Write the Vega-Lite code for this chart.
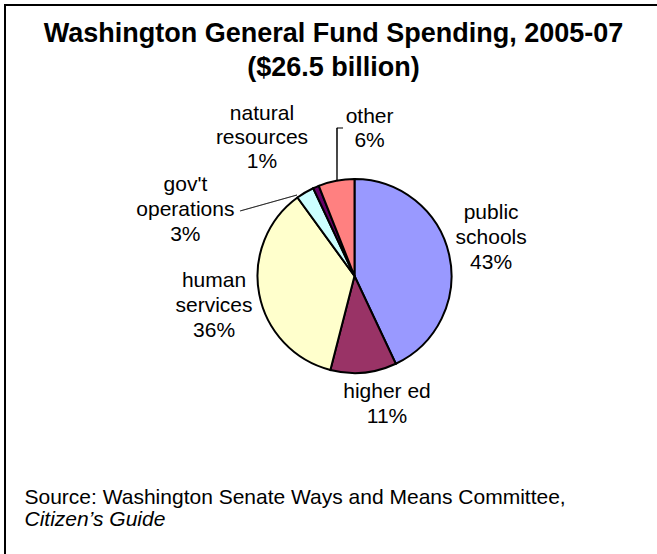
{
  "$schema": "https://vega.github.io/schema/vega-lite/v6.json",
  "width": 657,
  "height": 554,
  "autosize": {"type": "fit", "contains": "padding"},
  "padding": {"left": 5, "top": 5, "right": -3, "bottom": -3},
  "background": "white",
  "config": {"view": {"stroke": "black", "strokeWidth": 2}, "font": "Liberation Sans"},
  "title": {
    "text": ["Washington General Fund Spending, 2005-07", "($26.5 billion)"],
    "font": "Liberation Sans",
    "fontSize": 27,
    "fontWeight": "bold",
    "color": "black",
    "anchor": "middle",
    "frame": "group",
    "baseline": "bottom",
    "offset": -104,
    "dx": 1,
    "lineHeight": 34
  },
  "data": {
    "values": [
      {"cat": "public schools", "label": "public\nschools\n43%", "value": 43, "order": 1},
      {"cat": "higher ed", "label": "higher ed\n11%", "value": 11, "order": 2},
      {"cat": "human services", "label": "human\nservices\n36%", "value": 36, "order": 3},
      {"cat": "gov't operations", "label": "gov't\noperations\n3%", "value": 3, "order": 4},
      {"cat": "natural resources", "label": "natural\nresources\n1%", "value": 1, "order": 5},
      {"cat": "other", "label": "other\n6%", "value": 6, "order": 6}
    ]
  },
  "transform": [
    {"stack": "value", "groupby": [], "sort": [{"field": "order", "order": "ascending"}], "as": ["v0", "v1"]},
    {"calculate": "(datum.v0 + datum.v1) / 2", "as": "mid"}
  ],
  "layer": [
    {
      "mark": {"type": "arc", "outerRadius": 97, "stroke": "black", "strokeWidth": 2, "xOffset": 22, "yOffset": -5},
      "encoding": {
        "theta": {"field": "v0", "type": "quantitative", "scale": {"domain": [0, 100]}},
        "theta2": {"field": "v1"},
        "color": {
          "field": "cat", "type": "nominal",
          "scale": {
            "domain": ["public schools", "higher ed", "human services", "gov't operations", "natural resources", "other"],
            "range": ["#9999FF", "#993366", "#FFFFCC", "#CCFFFF", "#660066", "#FF8080"]
          },
          "legend": null
        }
      }
    },
    {
      "transform": [{"filter": "datum.cat === 'public schools'"}],
      "mark": {"type": "text", "radius": 140, "dy": -32, "xOffset": 22, "yOffset": -5, "fontSize": 21, "lineHeight": 25, "lineBreak": "\n", "align": "center", "baseline": "middle", "color": "black"},
      "encoding": {"theta": {"field": "mid", "type": "quantitative"}, "text": {"field": "label"}}
    },
    {
      "transform": [{"filter": "datum.cat === 'higher ed'"}],
      "mark": {"type": "text", "radius": 133, "dx": 20, "dy": -16, "xOffset": 22, "yOffset": -5, "fontSize": 21, "lineHeight": 25, "lineBreak": "\n", "align": "center", "baseline": "middle", "color": "black"},
      "encoding": {"theta": {"field": "mid", "type": "quantitative"}, "text": {"field": "label"}}
    },
    {
      "transform": [{"filter": "datum.cat === 'human services'"}],
      "mark": {"type": "text", "radius": 143, "dy": -22, "xOffset": 22, "yOffset": -5, "fontSize": 21, "lineHeight": 25, "lineBreak": "\n", "align": "center", "baseline": "middle", "color": "black"},
      "encoding": {"theta": {"field": "mid", "type": "quantitative"}, "text": {"field": "label"}}
    },
    {
      "transform": [{"filter": "datum.cat === \"gov't operations\""}],
      "mark": {"type": "text", "radius": 181, "dx": -77, "dy": 65, "xOffset": 22, "yOffset": -5, "fontSize": 21, "lineHeight": 25, "lineBreak": "\n", "align": "center", "baseline": "middle", "color": "black"},
      "encoding": {"theta": {"field": "mid", "type": "quantitative"}, "text": {"field": "label"}}
    },
    {
      "transform": [{"filter": "datum.cat === 'natural resources'"}],
      "mark": {"type": "text", "radius": 165, "dx": -27, "dy": -11, "xOffset": 22, "yOffset": -5, "fontSize": 21, "lineHeight": 24, "lineBreak": "\n", "align": "center", "baseline": "middle", "color": "black"},
      "encoding": {"theta": {"field": "mid", "type": "quantitative"}, "text": {"field": "label"}}
    },
    {
      "transform": [{"filter": "datum.cat === 'other'"}],
      "mark": {"type": "text", "radius": 149, "dx": 43, "dy": -13, "xOffset": 22, "yOffset": -5, "fontSize": 21, "lineHeight": 24, "lineBreak": "\n", "align": "center", "baseline": "middle", "color": "black"},
      "encoding": {"theta": {"field": "mid", "type": "quantitative"}, "text": {"field": "label"}}
    },
    {
      "data": {"values": [{"leader": "other"}]},
      "mark": {"type": "arc", "theta": -0.003, "theta2": 0.003, "radius": 148, "radius2": 95, "fill": "black", "stroke": "black", "strokeWidth": 0.6, "xOffset": 4.5, "yOffset": -5},
      "encoding": {}
    },
    {
      "data": {"values": [{"leader": "other tick"}]},
      "mark": {"type": "arc", "theta": 1.566, "theta2": 1.576, "radius": 6, "radius2": 0, "fill": "black", "stroke": "black", "strokeWidth": 0.6, "xOffset": 4.5, "yOffset": -153},
      "encoding": {}
    },
    {
      "data": {"values": [{"leader": "gov't operations"}]},
      "mark": {"type": "arc", "theta": 4.4377, "theta2": 4.4397, "radius": 59, "radius2": 0, "fill": "black", "stroke": "black", "strokeWidth": 0.6, "xOffset": -35.5, "yOffset": -86},
      "encoding": {}
    },
    {
      "data": {"values": [{"k": "a"}]},
      "mark": {"type": "point", "opacity": 0},
      "encoding": {
        "x": {
          "field": "k", "type": "nominal",
          "axis": {
            "orient": "bottom",
            "title": "Source: Washington Senate Ways and Means Committee,",
            "domain": false, "ticks": false, "labels": false, "grid": false,
            "titleFont": "Liberation Sans", "titleFontSize": 21, "titleFontWeight": "normal", "titleColor": "black",
            "titleAnchor": "start", "titleAlign": "left", "titleBaseline": "alphabetic",
            "titleX": 19, "titleY": -54
          }
        }
      }
    },
    {
      "data": {"values": [{"k2": "b"}]},
      "mark": {"type": "point", "opacity": 0},
      "encoding": {
        "x": {
          "field": "k2", "type": "nominal",
          "axis": {
            "orient": "bottom",
            "title": "Citizen’s Guide",
            "domain": false, "ticks": false, "labels": false, "grid": false,
            "titleFont": "Liberation Sans", "titleFontSize": 21, "titleFontWeight": "normal", "titleFontStyle": "italic", "titleColor": "black",
            "titleAnchor": "start", "titleAlign": "left", "titleBaseline": "alphabetic",
            "titleX": 19, "titleY": -32
          }
        }
      }
    }
  ],
  "resolve": {"scale": {"x": "independent"}, "axis": {"x": "independent"}}
}
